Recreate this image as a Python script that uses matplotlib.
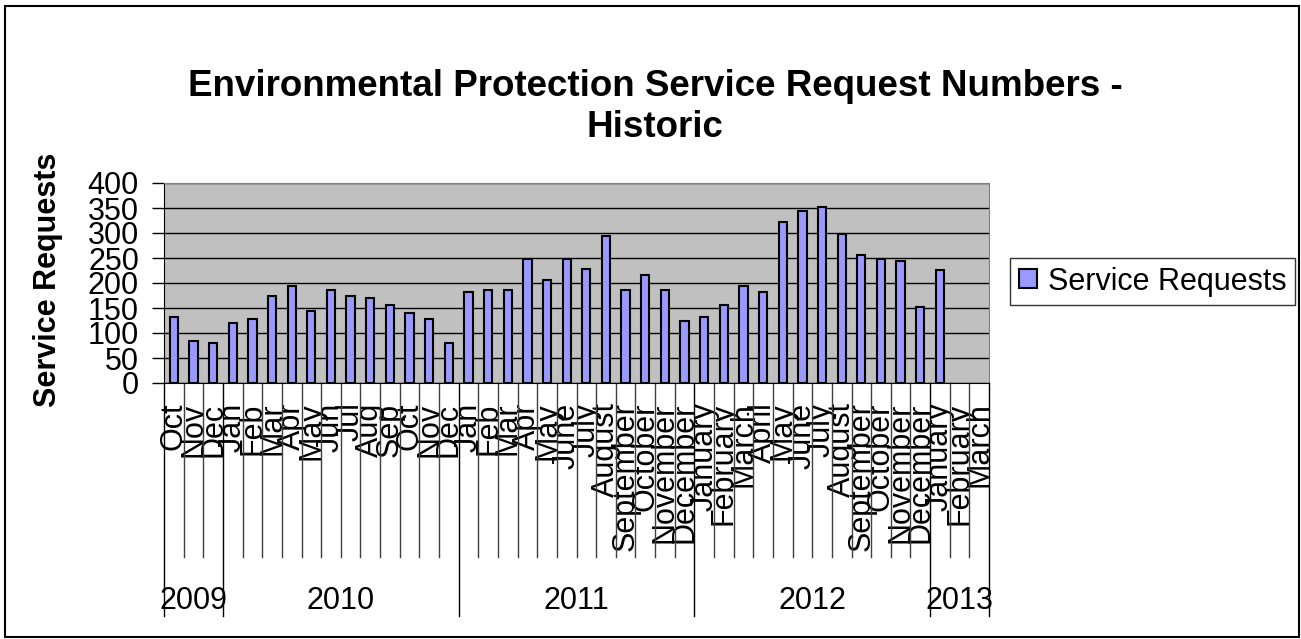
import numpy as np
import matplotlib
matplotlib.use("Agg")
import matplotlib.pyplot as plt
from matplotlib.patches import Rectangle
from matplotlib.transforms import blended_transform_factory

plt.rcParams['font.family'] = ['Liberation Sans', 'DejaVu Sans']

# monthly service requests, Oct 2009 - Mar 2013
years = ["2009", "2010", "2011", "2012", "2013"]
months_2009 = ["Oct", "Nov", "Dec"]
months_2010 = ["Jan", "Feb", "Mar", "Apr", "May", "Jun", "Jul", "Aug", "Sep", "Oct", "Nov", "Dec"]
months_2011 = ["Jan", "Feb", "Mar", "Apr", "May", "June", "July", "August", "September",
               "October", "November", "December"]
months_2012 = ["January", "February", "March", "April", "May", "June", "July", "August",
               "September", "October", "November", "December"]
months_2013 = ["January", "February", "March"]

requests_2009 = [133, 84, 80]
requests_2010 = [121, 129, 175, 194, 144, 187, 175, 171, 156, 141, 129, 80]
requests_2011 = [183, 187, 187, 248, 206, 248, 229, 293, 187, 217, 187, 125]
requests_2012 = [133, 156, 194, 183, 321, 343, 351, 298, 255, 248, 245, 153]
requests_2013 = [226, np.nan, np.nan]

groups = [months_2009, months_2010, months_2011, months_2012, months_2013]
labels = sum(groups, [])
values = np.array(requests_2009 + requests_2010 + requests_2011 + requests_2012 + requests_2013,
                  dtype=float)
x = np.arange(len(labels))

W, H = 1301, 639
FS = 22
fig = plt.figure(figsize=(W / 100, H / 100), dpi=100)

# outer chart frame
fig.patches.append(Rectangle((5 / W, 2 / H), 1294 / W, 631 / H, transform=fig.transFigure,
                             fill=False, edgecolor="black", linewidth=1.5))

ax = fig.add_axes([164 / W, (H - 383) / H, 825 / W, 200 / H])
ax.set_facecolor("#C0C0C0")
ax.bar(x, values, width=0.42, color="#9999FF", edgecolor="black", linewidth=1.5,
       label="Service Requests", zorder=3)

ax.set_xlim(-0.5, len(labels) - 0.5)
ax.set_ylim(0, 400)
ax.set_yticks(np.arange(0, 401, 50))
ax.yaxis.grid(True, color="black", linewidth=1, zorder=1)
ax.tick_params(axis="y", labelsize=FS, length=9, width=1, pad=9)
ax.set_xticks(x)
ax.set_xticklabels(labels, rotation=90, fontsize=FS)
ax.tick_params(axis="x", length=0, pad=14)
for s in ["top", "right"]:
    ax.spines[s].set_color("#808080")
ax.spines["left"].set_color("black")
ax.spines["bottom"].set_color("black")

# two-level category axis: month separators and year separators
trans = blended_transform_factory(ax.transData, ax.transAxes)
bounds = np.cumsum([0] + [len(g) for g in groups]) - 0.5
for b in np.arange(-0.5, len(labels)):
    if b in bounds:
        ax.plot([b, b], [0, -1.165], transform=trans, color="black", linewidth=1, clip_on=False)
    else:
        ax.plot([b, b], [0, -0.87], transform=trans, color="#404040", linewidth=1, clip_on=False)
for yr, lo, hi in zip(years, bounds[:-1], bounds[1:]):
    ax.text((lo + hi) / 2, -1.09, yr, transform=trans, ha="center", va="center", fontsize=FS)

fig.text(655 / W, 1 - 107 / H, "Environmental Protection Service Request Numbers -\nHistoric",
         ha="center", va="center", fontsize=26.5, fontweight="bold", linespacing=1.2)
fig.text(48 / W, 1 - 280 / H, "Service Requests", rotation=90, ha="center", va="center",
         fontsize=FS, fontweight="bold")

leg = fig.legend(loc="upper left", bbox_to_anchor=(1010 / W, 1 - 258 / H), fontsize=FS,
                 frameon=True, fancybox=False, borderaxespad=0, borderpad=0.28,
                 handlelength=0.6, handleheight=0.6, handletextpad=0.35)
leg.get_frame().set_edgecolor("black")
leg.get_frame().set_linewidth(1)

fig.savefig("out.png", dpi=100)
